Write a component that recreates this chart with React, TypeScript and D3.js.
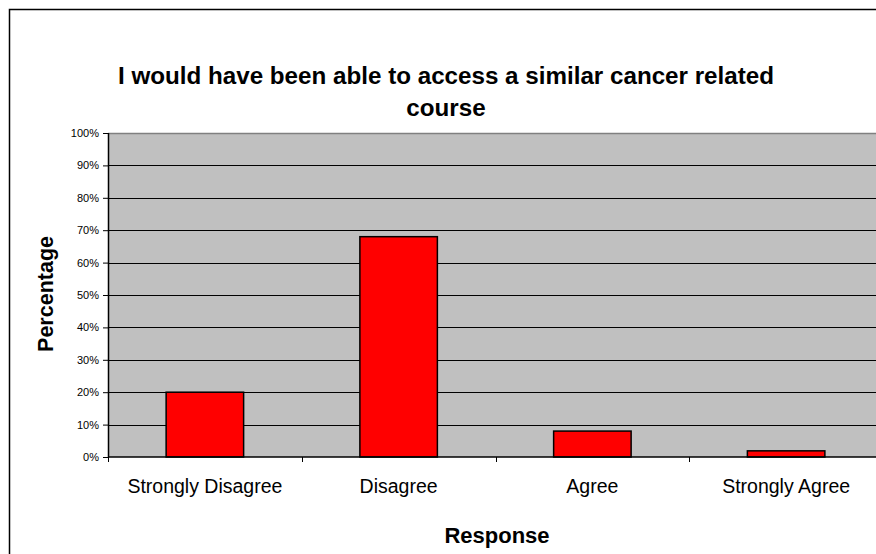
import React, { useEffect, useRef } from 'react';
import * as d3 from 'd3';

const categories = ['Strongly Disagree', 'Disagree', 'Agree', 'Strongly Agree'];
const values = [20, 68, 8, 1.9];
const yTicks = [0, 10, 20, 30, 40, 50, 60, 70, 80, 90, 100];
const titleLines = ['I would have been able to access a similar cancer related', 'course'];
const xTitle = 'Response';
const yTitle = 'Percentage';

export default function App() {
  const svgRef = useRef<SVGSVGElement>(null);

  useEffect(() => {
    if (!svgRef.current) return;
    const width = 876;
    const height = 554;
    const margin = { top: 133, right: -7, bottom: 97, left: 108 };
    const innerW = width - margin.left - margin.right;
    const innerH = height - margin.top - margin.bottom;

    const svg = d3.select(svgRef.current);
    svg.selectAll('*').remove();

    // chart border
    svg.append('rect')
      .attr('x', 9.5).attr('y', 9.5)
      .attr('width', 900).attr('height', 600)
      .attr('fill', 'white')
      .attr('stroke', '#000')
      .attr('stroke-width', 1.5);

    const g = svg.append('g').attr('transform', `translate(${margin.left},${margin.top})`);

    const x = d3.scaleBand<string>().domain(categories).range([0, innerW]).paddingInner(0.6).paddingOuter(0.3);
    const xb = d3.scaleBand<string>().domain(categories).range([0, innerW]);
    const y = d3.scaleLinear().domain([0, 100]).range([innerH, 0]);

    // plot area
    g.append('rect')
      .attr('width', innerW).attr('height', innerH)
      .attr('fill', '#c0c0c0');

    g.append('line')
      .attr('x1', 0).attr('x2', innerW)
      .attr('y1', 0.5).attr('y2', 0.5)
      .attr('stroke', '#808080').attr('stroke-width', 1.5);

    // gridlines
    g.selectAll('.grid')
      .data(yTicks.filter(t => t > 0 && t < 100))
      .enter()
      .append('line')
        .attr('x1', 0).attr('x2', innerW)
        .attr('y1', d => Math.round(y(d)) + 0.5)
        .attr('y2', d => Math.round(y(d)) + 0.5)
        .attr('stroke', '#000');

    // bars
    g.selectAll('.bar')
      .data(values)
      .enter()
      .append('rect')
        .attr('x', (d, i) => x(categories[i]) || 0)
        .attr('y', d => y(d))
        .attr('width', x.bandwidth())
        .attr('height', d => innerH - y(d))
        .attr('fill', '#ff0000')
        .attr('stroke', '#000')
        .attr('stroke-width', 1.5);

    // y axis
    const yAxis = g.append('g')
      .call(d3.axisLeft(y).tickValues(yTicks).tickSize(5).tickFormat(d => `${d}%`));
    yAxis.select('.domain').attr('stroke', '#000').attr('stroke-width', 1.5).attr('d', `M0.5,0V${innerH}`);
    yAxis.selectAll('.tick line').attr('stroke', '#000');
    yAxis.selectAll('text')
      .attr('x', -9)
      .style('font-family', 'Arial, "Liberation Sans", sans-serif')
      .style('font-size', '11px')
      .style('fill', '#000');

    // x axis
    const xAxis = g.append('g').attr('transform', `translate(0,${innerH})`);
    xAxis.append('line')
      .attr('x1', 0).attr('x2', innerW)
      .attr('y1', 0).attr('y2', 0)
      .attr('stroke', '#000').attr('stroke-width', 1.5);
    xAxis.selectAll('.xtick')
      .data(categories)
      .enter()
      .append('line')
        .attr('x1', d => Math.round(xb(d) || 0) + 0.5)
        .attr('x2', d => Math.round(xb(d) || 0) + 0.5)
        .attr('y1', 0).attr('y2', 5)
        .attr('stroke', '#000');
    xAxis.selectAll('.xlabel')
      .data(categories)
      .enter()
      .append('text')
        .attr('x', d => (xb(d) || 0) + xb.bandwidth() / 2)
        .attr('y', 36)
        .attr('text-anchor', 'middle')
        .style('font-family', 'Arial, "Liberation Sans", sans-serif')
        .style('font-size', '19.5px')
        .text(d => d);

    // titles
    svg.selectAll('.title')
      .data(titleLines)
      .enter()
      .append('text')
        .attr('x', 446)
        .attr('y', (d, i) => 84 + i * 32)
        .attr('text-anchor', 'middle')
        .style('font-family', 'Arial, "Liberation Sans", sans-serif')
        .style('font-weight', 'bold')
        .style('font-size', '24.2px')
        .text(d => d);

    svg.append('text')
      .attr('x', 497)
      .attr('y', 543)
      .attr('text-anchor', 'middle')
      .style('font-family', 'Arial, "Liberation Sans", sans-serif')
      .style('font-weight', 'bold')
      .style('font-size', '22px')
      .text(xTitle);

    svg.append('text')
      .attr('transform', `translate(53,294) rotate(-90)`)
      .attr('text-anchor', 'middle')
      .style('font-family', 'Arial, "Liberation Sans", sans-serif')
      .style('font-weight', 'bold')
      .style('font-size', '21.5px')
      .text(yTitle);
  }, []);

  return (
    <div style={{ position: 'fixed', left: 0, top: 0, width: 876, height: 554, overflow: 'hidden', background: 'white' }}>
      <svg ref={svgRef} width={876} height={554} style={{ display: 'block' }} />
    </div>
  );
}
